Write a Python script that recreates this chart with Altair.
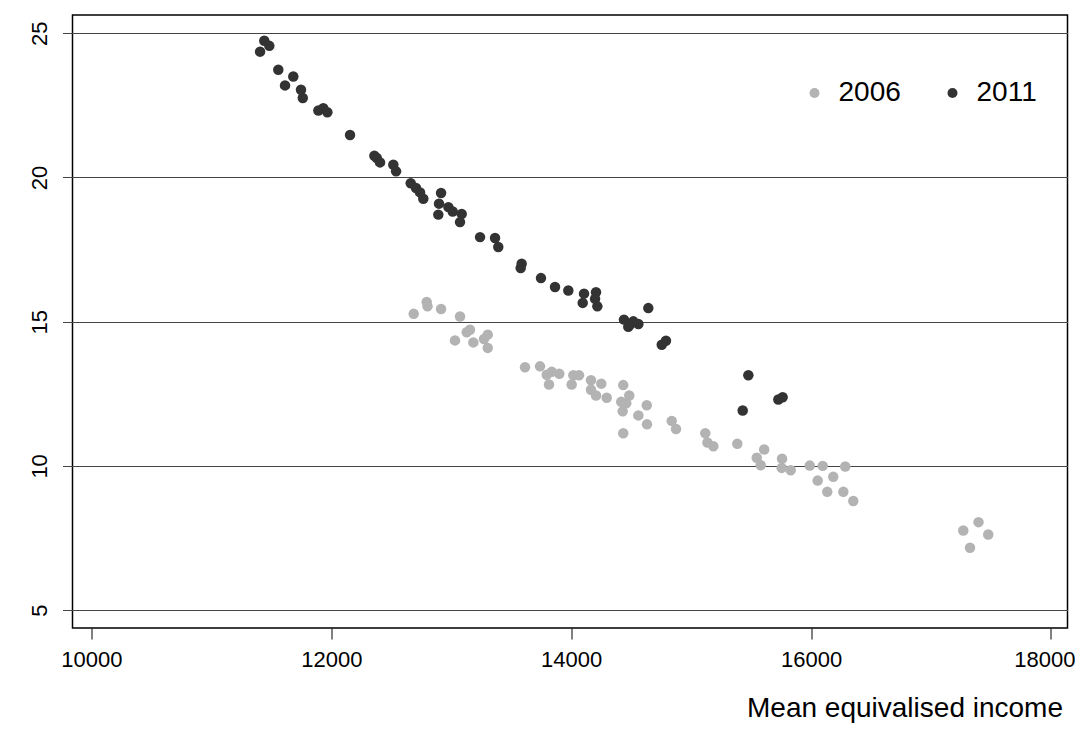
import altair as alt
import pandas as pd

# 2006 series
income_2006 = [12687, 12795, 12802, 12915, 13073, 13129, 13156, 13031, 13184, 13304,
               13273, 13304, 13615, 13740, 13796, 13838, 13901, 13815, 14018, 14065,
               14004, 14165, 14251, 14165, 14207, 14296, 14434, 14484, 14417, 14459,
               14429, 14560, 14630, 14632, 14434, 14838, 14874, 15118, 15136, 15185,
               15385, 15609, 15547, 15580, 15758, 15755, 15830, 15989, 16097, 16285,
               16055, 16185, 16135, 16269, 16352, 17269, 17396, 17477, 17325]
value_2006 = [15.27, 15.68, 15.53, 15.44, 15.18, 14.63, 14.72, 14.35, 14.28, 14.55,
              14.40, 14.09, 13.42, 13.45, 13.16, 13.26, 13.19, 12.82, 13.14, 13.14,
              12.82, 12.97, 12.85, 12.64, 12.44, 12.36, 12.80, 12.44, 12.22, 12.17,
              11.89, 11.75, 12.10, 11.44, 11.13, 11.56, 11.28, 11.13, 10.81, 10.68,
              10.77, 10.57, 10.28, 10.02, 10.25, 9.93, 9.85, 10.01, 10.00, 9.98,
              9.49, 9.62, 9.10, 9.10, 8.78, 7.76, 8.05, 7.62, 7.16]

# 2011 series
income_2011 = [11406, 11441, 11483, 11558, 11683, 11614, 11747, 11762, 11892, 11933,
               11967, 12156, 12359, 12379, 12406, 12517, 12540, 12662, 12706, 12740,
               12767, 12915, 12898, 12976, 13012, 12892, 13087, 13073, 13240, 13365,
               13392, 13587, 13579, 13748, 13865, 13976, 14107, 14207, 14199, 14096,
               14218, 14643, 14440, 14490, 14518, 14560, 14476, 14755, 14790, 15477,
               15430, 15727, 15763]
value_2011 = [24.36, 24.74, 24.56, 23.73, 23.50, 23.19, 23.04, 22.75, 22.32, 22.40,
              22.26, 21.47, 20.75, 20.67, 20.52, 20.44, 20.21, 19.80, 19.63, 19.48,
              19.26, 19.46, 19.09, 18.97, 18.82, 18.71, 18.73, 18.45, 17.93, 17.90,
              17.59, 17.01, 16.86, 16.51, 16.20, 16.08, 15.97, 16.02, 15.79, 15.65,
              15.53, 15.47, 15.07, 14.90, 15.01, 14.92, 14.82, 14.20, 14.34, 13.14,
              11.92, 12.30, 12.38]

years = ["2006", "2011"]
colors = ["#b3b3b3", "#333333"]
x_ticks = [10000, 12000, 14000, 16000, 18000]
y_ticks = [5, 10, 15, 20, 25]

df = pd.concat([
    pd.DataFrame({"income": income_2006, "value": value_2006, "year": "2006"}),
    pd.DataFrame({"income": income_2011, "value": value_2011, "year": "2011"}),
], ignore_index=True)

FONT = "Liberation Sans"
last_tick = "datum.value == 18000"

chart = alt.Chart(df).mark_circle(size=110, opacity=1).encode(
    x=alt.X("income:Q",
            scale=alt.Scale(domain=[9842, 18138], nice=False, zero=False),
            axis=alt.Axis(values=x_ticks, format="d", grid=False, domain=False,
                          tickSize=11, tickColor="black", tickWidth=1,
                          labelFontSize=22, labelFont=FONT, labelColor="black",
                          labelPadding=10, labelFlush=False,
                          labelAlign=alt.condition(last_tick, alt.value("right"), alt.value("center")),
                          labelOffset=alt.condition(last_tick, alt.value(24), alt.value(0)),
                          title="Mean equivalised income", titleFont=FONT,
                          titleFontSize=28, titleFontWeight="normal",
                          titleColor="black", titleAnchor="end", titleAlign="right",
                          titleBaseline="alphabetic", titleX=990, titleY=88)),
    y=alt.Y("value:Q",
            scale=alt.Scale(domain=[4.38, 25.63], nice=False, zero=False),
            axis=alt.Axis(values=y_ticks, grid=True, gridColor="#444444", gridWidth=1,
                          domain=False, tickSize=10, tickColor="#444444", tickWidth=1,
                          labelFontSize=22, labelFont=FONT, labelColor="black",
                          labelAngle=270, labelAlign="center", labelBaseline="alphabetic",
                          labelPadding=16, labelFlush=False, title=None)),
    color=alt.Color("year:N", scale=alt.Scale(domain=years, range=colors),
                    legend=alt.Legend(orient="none", legendX=728, legendY=64,
                                      direction="horizontal", title=None,
                                      labelFontSize=28, labelFont=FONT,
                                      labelColor="black", symbolSize=100,
                                      symbolType="circle", symbolStrokeWidth=0,
                                      labelOffset=10, columnPadding=37, padding=0)),
    order=alt.Order("year:N"),
).properties(
    width=995, height=613,
    autosize=alt.AutoSizeParams(type="none"),
    padding={"left": 64.5, "top": 7, "right": 8, "bottom": 95},
).configure(
    background="white"
).configure_view(
    stroke="black", strokeWidth=1.5
)

chart.save("out.html", embed_options={"renderer": "svg", "actions": False})
